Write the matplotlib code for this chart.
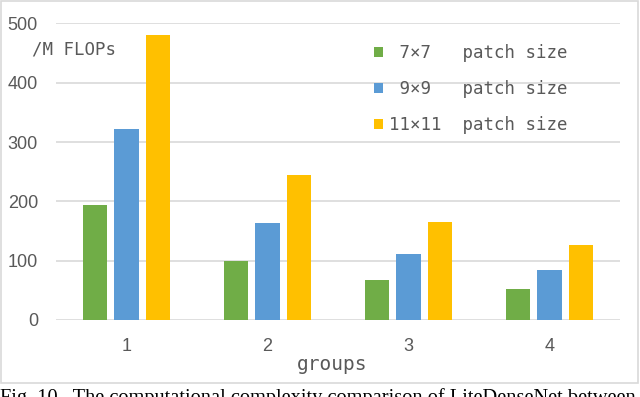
import numpy as np
import matplotlib.pyplot as plt
from matplotlib.patches import Rectangle

# Data
groups = ['1', '2', '3', '4']
series_labels = [' 7×7   patch size', ' 9×9   patch size', '11×11  patch size']
flops_7 = [194, 100, 67, 52]
flops_9 = [322, 164, 112, 85]
flops_11 = [481, 245, 166, 127]
colors = ['#70AD47', '#5B9BD5', '#FFC000']
yticks = [0, 100, 200, 300, 400, 500]

text_color = '#595959'
grid_color = '#D9D9D9'
mono = 'DejaVu Sans Mono'

fig = plt.figure(figsize=(6.4, 3.97), dpi=100)
ax = fig.add_axes([0.0875, 0.194, 0.88125, 0.747])

x = np.arange(len(groups))
width = 0.174
step = 0.223
bars = []
for i, (vals, c) in enumerate(zip([flops_7, flops_9, flops_11], colors)):
    b = ax.bar(x + (i - 1) * step, vals, width, color=c, zorder=3)
    bars.append(b)

ax.set_xlim(-0.5, len(groups) - 0.5)
ax.set_ylim(0, 500)
ax.set_yticks(yticks)
ax.set_xticks(x)
ax.set_xticklabels(groups)
ax.yaxis.grid(True, color=grid_color, linewidth=1.2, zorder=0)
ax.tick_params(length=0, labelsize=13, labelcolor=text_color)
ax.tick_params(axis='y', pad=13)
ax.tick_params(axis='x', pad=13)
for lbl in ax.get_xticklabels() + ax.get_yticklabels():
    lbl.set_fontfamily('Liberation Sans')
for s in ax.spines.values():
    s.set_visible(False)

fig.text(332 / 640, 1 - 364 / 397, 'groups', family=mono, fontsize=14,
         color=text_color, ha='center', va='center')
fig.text(32 / 640, 1 - 50 / 397, '/M FLOPs', family=mono, fontsize=12.5,
         color=text_color, va='center', ha='left')

leg = fig.legend(bars, series_labels, loc='upper left',
                 bbox_to_anchor=(374 / 640, 1 - 44 / 397), frameon=False,
                 prop={'family': mono, 'size': 12.5}, handlelength=0.5,
                 handleheight=0.5, handletextpad=0.35, labelspacing=1.05,
                 borderpad=0, borderaxespad=0)
for t in leg.get_texts():
    t.set_color(text_color)

# chart frame
fig.patches.append(Rectangle((1 / 640, 1 - 383 / 397), 637 / 640, 382 / 397,
                             transform=fig.transFigure, fill=False,
                             edgecolor='#D9D9D9', linewidth=1.2))

# caption, cut off at the bottom of the image
fig.text(0, 1 - 403 / 397,
         'Fig. 10.  The computational complexity comparison of LiteDenseNet between',
         family='Liberation Serif', fontsize=14.7, color='black', va='baseline')

fig.savefig('out.png', dpi=100)
